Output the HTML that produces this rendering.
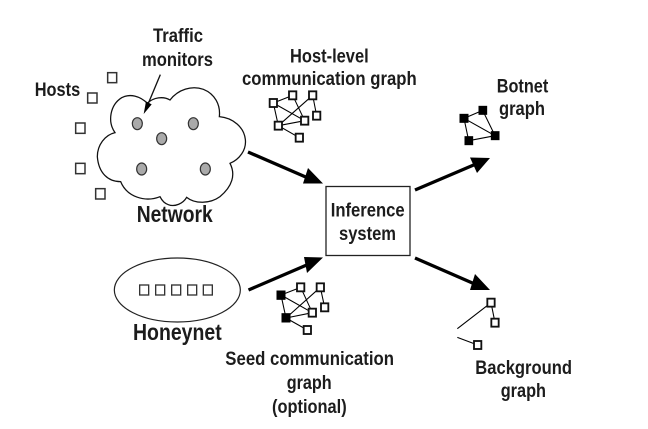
<!DOCTYPE html>
<html><head><meta charset="utf-8"><style>
html,body{margin:0;padding:0;background:#fff;width:648px;height:429px;overflow:hidden}
svg{display:block}
text{font-family:"Liberation Sans",sans-serif;font-weight:bold;fill:#1c1c1c;font-size:19.5px}
.n{fill:#fff;stroke:#111;stroke-width:5.500}
.f{fill:#000;stroke:#000;stroke-width:5}
.l{stroke:#000;stroke-width:3.200;fill:none}
</style></head><body>
<svg width="648" height="429" viewBox="0 0 648 429" xmlns="http://www.w3.org/2000/svg">
<rect width="648" height="429" fill="#fff"/>

<!-- cloud and hosts -->
<g transform="translate(20,10) scale(.33333)">
<path d="M285,368 C262,335 270,285 305,263 C330,250 360,258 382,280 C400,262 430,258 450,270 C475,238 515,226 550,238 C585,252 602,285 598,320 C640,324 672,352 676,388 C680,420 658,448 630,460 C648,495 636,530 600,560 C570,582 525,582 500,562 C490,580 465,592 445,584 C433,580 425,570 420,560 C375,578 320,560 302,515 C265,515 236,490 232,440 C232,405 255,375 285,368 Z" fill="#fff" stroke="#111" stroke-width="3.800"/>
<g fill="#aaa" stroke="#333" stroke-width="3.600">
<ellipse cx="352" cy="341" rx="15" ry="18"/>
<ellipse cx="520" cy="341" rx="15" ry="18"/>
<ellipse cx="425" cy="386" rx="15" ry="18"/>
<ellipse cx="365" cy="477" rx="15" ry="18"/>
<ellipse cx="556" cy="477" rx="15" ry="18"/>
</g>
<g fill="#fff" stroke="#333" stroke-width="4.500">
<rect x="263" y="188" width="27" height="30"/>
<rect x="203" y="249" width="28" height="30"/>
<rect x="167" y="339" width="28" height="31"/>
<rect x="167" y="460" width="28" height="31"/>
<rect x="227" y="536" width="28" height="31"/>
</g>
<path d="M421,194 L385,280" stroke="#111" stroke-width="4" fill="none"/>
<path d="M371,312 L378,274 L395,283 Z" fill="#000"/>
</g>

<!-- host-level graph -->
<g transform="translate(230,40) scale(.33333)">
<path class="l" d="M130,189 L188,166 M130,189 L224,242 M130,189 L145,257 M188,166 L224,242 M248,166 L145,257 M248,166 L260,227 M145,257 L224,242 M145,257 L208,293"/>
<rect class="n" x="119" y="177" width="22" height="24"/>
<rect class="n" x="177" y="154" width="22" height="24"/>
<rect class="n" x="237" y="154" width="22" height="24"/>
<rect class="n" x="249" y="215" width="22" height="24"/>
<rect class="n" x="213" y="230" width="22" height="24"/>
<rect class="n" x="134" y="245" width="22" height="24"/>
<rect class="n" x="197" y="281" width="22" height="24"/>
</g>

<!-- botnet graph -->
<g transform="translate(430,70) scale(.33333)">
<path class="l" d="M102,145 L158,121 M102,145 L195,197 M102,145 L116,212 M158,121 L195,197 M116,212 L195,197"/>
<rect class="f" x="91" y="134" width="22" height="22"/>
<rect class="f" x="148" y="110" width="21" height="22"/>
<rect class="f" x="185" y="186" width="21" height="22"/>
<rect class="f" x="106" y="201" width="21" height="22"/>
</g>

<!-- honeynet -->
<g transform="translate(100,250) scale(.33333)">
<ellipse cx="232" cy="120" rx="189" ry="96" fill="#fff" stroke="#222" stroke-width="3.600"/>
<g fill="#fff" stroke="#333" stroke-width="4">
<rect x="119" y="105" width="27" height="30"/>
<rect x="167" y="105" width="27" height="30"/>
<rect x="215" y="105" width="27" height="30"/>
<rect x="263" y="105" width="27" height="30"/>
<rect x="310" y="105" width="27" height="30"/>
</g>
<!-- seed graph -->
<path class="l" d="M543,135 L602,112 M543,135 L637,188 M543,135 L558,204 M602,112 L637,188 M661,112 L558,204 M661,112 L674,172 M558,204 L637,188 M558,204 L622,240"/>
<rect class="f" x="532" y="124" width="22" height="23"/>
<rect class="f" x="547" y="192" width="22" height="23"/>
<rect class="n" x="591" y="100" width="22" height="24"/>
<rect class="n" x="650" y="100" width="22" height="24"/>
<rect class="n" x="663" y="160" width="22" height="24"/>
<rect class="n" x="626" y="176" width="22" height="24"/>
<rect class="n" x="611" y="228" width="22" height="24"/>
</g>

<!-- background graph -->
<g transform="translate(400,240) scale(.33333)">
<path class="l" d="M273,188 L172,266 M273,188 L285,248 M172,292 L233,315"/>
<rect class="n" x="262" y="176" width="22" height="24"/>
<rect class="n" x="274" y="236" width="22" height="24"/>
<rect class="n" x="222" y="303" width="22" height="24"/>
</g>

<!-- inference box -->
<rect x="326" y="186.500" width="84" height="69" fill="#fff" stroke="#222" stroke-width="1.300"/>

<!-- arrows -->
<path d="M248,152 L308,178" stroke="#000" stroke-width="3.300"/>
<path d="M323,183.500 L303,183.500 L308,168 Z" fill="#000"/>
<path d="M248.500,290 L309,264" stroke="#000" stroke-width="3.300"/>
<path d="M323,257.500 L307,273 L304,257 Z" fill="#000"/>
<path d="M415,190 L476,164" stroke="#000" stroke-width="3.300"/>
<path d="M490,158 L470,157.500 L477,173 Z" fill="#000"/>
<path d="M415,258 L477,285" stroke="#000" stroke-width="3.300"/>
<path d="M490,290 L470,290 L475,274 Z" fill="#000"/>

<!-- labels -->
<text x="153" y="42" textLength="50" lengthAdjust="spacingAndGlyphs">Traffic</text>
<text x="142" y="66" textLength="71" lengthAdjust="spacingAndGlyphs">monitors</text>
<text x="34.700" y="96" textLength="45.500" lengthAdjust="spacingAndGlyphs">Hosts</text>
<text x="136.700" y="222" textLength="76" lengthAdjust="spacingAndGlyphs" style="font-size:23px">Network</text>
<text x="290" y="62.700" textLength="78.700" lengthAdjust="spacingAndGlyphs">Host-level</text>
<text x="242" y="85" textLength="174.700" lengthAdjust="spacingAndGlyphs">communication graph</text>
<text x="496.700" y="92.700" textLength="51.600" lengthAdjust="spacingAndGlyphs">Botnet</text>
<text x="499" y="115" textLength="46" lengthAdjust="spacingAndGlyphs">graph</text>
<text x="330.700" y="216.700" textLength="74" lengthAdjust="spacingAndGlyphs">Inference</text>
<text x="339" y="240" textLength="57" lengthAdjust="spacingAndGlyphs">system</text>
<text x="133" y="340" textLength="88.700" lengthAdjust="spacingAndGlyphs" style="font-size:23px">Honeynet</text>
<text x="225.300" y="365" textLength="168.700" lengthAdjust="spacingAndGlyphs">Seed communication</text>
<text x="286.700" y="389" textLength="45" lengthAdjust="spacingAndGlyphs">graph</text>
<text x="272" y="413" textLength="74.700" lengthAdjust="spacingAndGlyphs">(optional)</text>
<text x="475.300" y="374" textLength="96.700" lengthAdjust="spacingAndGlyphs">Background</text>
<text x="500.700" y="397" textLength="45.300" lengthAdjust="spacingAndGlyphs">graph</text>
</svg>
</body></html>
